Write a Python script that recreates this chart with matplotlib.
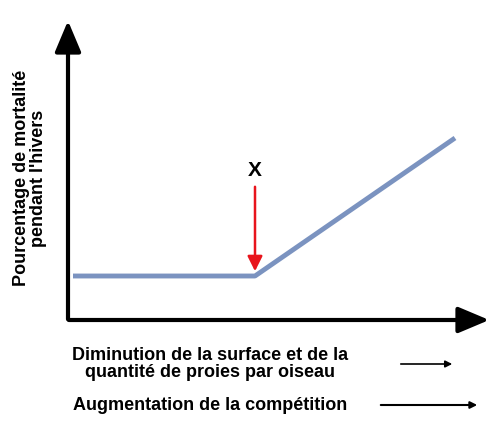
import matplotlib.pyplot as plt

plt.rcParams["font.family"] = ["Liberation Sans", "DejaVu Sans"]

# schematic data (image-pixel units, y downward)
curve_x = [73, 255, 455]
curve_y = [276, 276, 138]
marker_x = 255
marker_label = "X"
y_label = "Pourcentage de mortalité\npendant l'hivers"
x_label_1 = "Diminution de la surface et de la\nquantité de proies par oiseau"
x_label_2 = "Augmentation de la compétition"

fig = plt.figure(figsize=(4.98, 4.40), dpi=100)
ax = fig.add_axes([0, 0, 1, 1])
ax.set_xlim(0, 498)
ax.set_ylim(440, 0)
ax.axis("off")

# axes with arrow heads
ax.annotate("", xy=(68, 18), xytext=(68, 322),
            arrowprops=dict(arrowstyle="-|>,head_length=1.9,head_width=0.8", color="black", lw=3))
ax.annotate("", xy=(492, 320), xytext=(66, 320),
            arrowprops=dict(arrowstyle="-|>,head_length=1.9,head_width=0.8", color="black", lw=3))

ax.plot(curve_x, curve_y, color="#7b93c0", lw=3.5, solid_capstyle="butt")

ax.annotate("", xy=(marker_x, 274), xytext=(marker_x, 184),
            arrowprops=dict(arrowstyle="-|>,head_length=0.9,head_width=0.45", color="#e8141c", lw=1.8))
ax.text(marker_x, 170, marker_label, ha="center", va="center", fontsize=15, fontweight="bold")

ax.text(30, 178, y_label, rotation=90, ha="center", va="center", fontsize=13,
        fontweight="bold", linespacing=1.05)

ax.text(210, 364, x_label_1, ha="center", va="center", fontsize=13, fontweight="bold",
        linespacing=1.05)
ax.text(210, 406, x_label_2, ha="center", va="center", fontsize=13, fontweight="bold")
ax.annotate("", xy=(455, 364), xytext=(398, 364),
            arrowprops=dict(arrowstyle="-|>", color="black", lw=1.2))
ax.annotate("", xy=(480, 405), xytext=(378, 405),
            arrowprops=dict(arrowstyle="-|>", color="black", lw=1.5))

fig.savefig("out.png", dpi=100)
